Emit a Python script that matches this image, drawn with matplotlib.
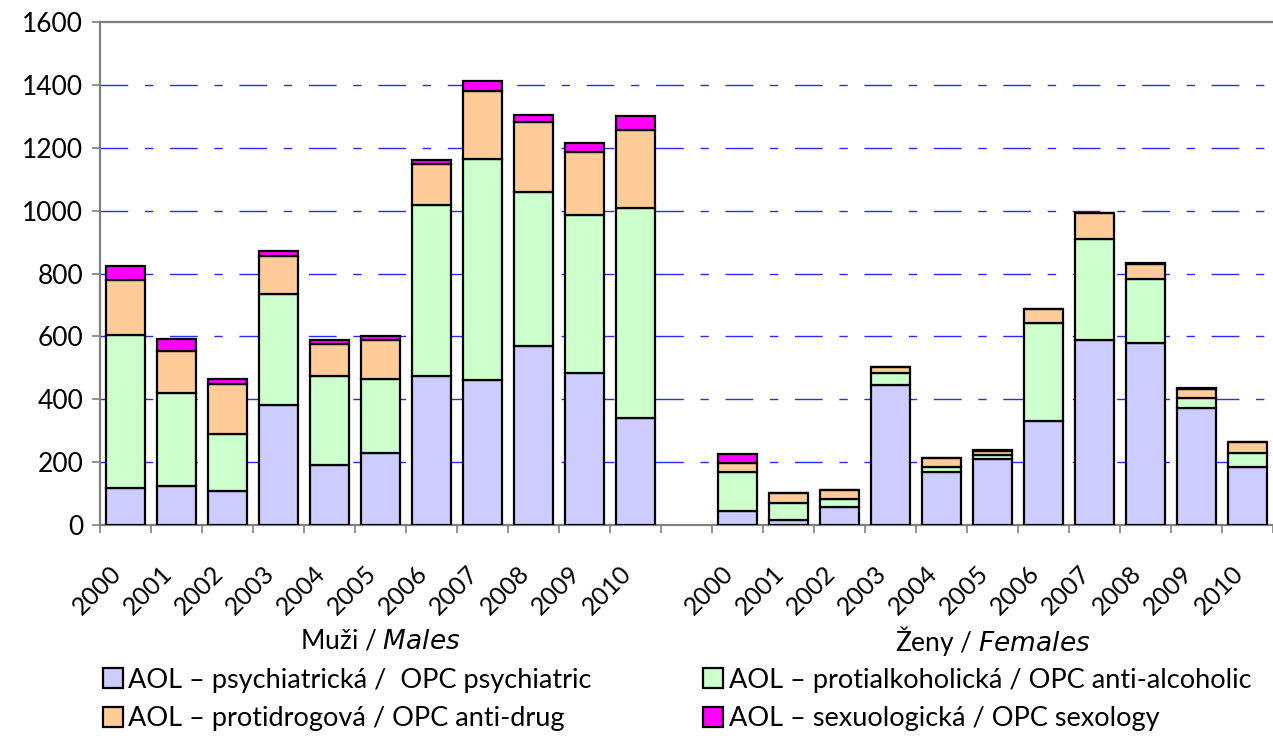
import matplotlib.pyplot as plt
import matplotlib.transforms as mtransforms
import numpy as np

plt.rcParams['font.family'] = ['Lato', 'DejaVu Sans']

years = ['2000', '2001', '2002', '2003', '2004', '2005', '2006', '2007', '2008', '2009', '2010']

# Muži / Males
m_psych = [118, 125, 107, 381, 192, 229, 475, 461, 568, 484, 339]
m_alc = [485, 295, 181, 355, 281, 237, 542, 704, 490, 502, 668]
m_drug = [175, 135, 159, 119, 103, 122, 131, 214, 223, 202, 250]
m_sex = [46, 37, 18, 18, 11, 14, 13, 33, 24, 26, 43]

# Ženy / Females
f_psych = [45, 17, 58, 446, 169, 209, 331, 588, 580, 373, 185]
f_alc = [125, 52, 24, 36, 14, 13, 313, 321, 203, 30, 43]
f_drug = [27, 34, 29, 21, 30, 12, 42, 83, 46, 29, 35]
f_sex = [28, 0, 0, 0, 0, 3, 0, 0, 3, 4, 0]

series_labels = ['AOL – psychiatrická /  OPC psychiatric',
                 'AOL – protialkoholická / OPC anti-alcoholic',
                 'AOL – protidrogová / OPC anti-drug',
                 'AOL – sexuologická / OPC sexology']
colors = ['#CCCCFF', '#CCFFCC', '#FFCC99', '#FF00FF']

# combine groups with one empty slot between them
n = len(years)
x = np.concatenate([np.arange(n), np.arange(n) + n + 1])
series = [m_psych + f_psych, m_alc + f_alc, m_drug + f_drug, m_sex + f_sex]

fig = plt.figure(figsize=(12.73, 7.36), dpi=100)
ax = fig.add_axes([100 / 1273, 1 - 525 / 736, 1 - 100 / 1273, 503 / 736])

bottom = np.zeros(len(x))
handles = []
for vals, col, lab in zip(series, colors, series_labels):
    vals = np.array(vals, dtype=float)
    b = ax.bar(x, vals, width=0.78, bottom=bottom, color=col, edgecolor='black',
               linewidth=1.6, label=lab, zorder=3)
    handles.append(b)
    bottom += vals

ax.set_xlim(-0.5, 2 * n + 0.5)
ax.set_ylim(0, 1600)
ax.set_yticks(range(0, 1601, 200))
ax.tick_params(axis='y', labelsize=19, length=6, color='#808080', width=1.2, pad=6)

for yv in range(200, 1600, 200):
    ax.axhline(yv, color='#2a2aff', lw=1, dashes=(20, 12, 6, 12), zorder=1)

ax.set_xticks(x)
ax.set_xticklabels(years + years, rotation=45, ha='right', va='center',
                   rotation_mode='anchor', fontsize=18)
ax.tick_params(axis='x', length=0, pad=32)
shift = mtransforms.ScaledTranslation(-8 / 100, 0, fig.dpi_scale_trans)
for lbl in ax.get_xticklabels():
    lbl.set_transform(lbl.get_transform() + shift)
ax.set_xticks(np.arange(-0.5, 2 * n + 1, 1), minor=True)
ax.tick_params(axis='x', which='minor', length=6, color='#808080', width=1.2)

for s in ['left', 'bottom', 'top']:
    ax.spines[s].set_color('#808080')
    ax.spines[s].set_linewidth(1.6)
ax.spines['right'].set_visible(False)

ax.text((n - 1) / 2, -0.23, 'Muži / $\\it{Males}$', transform=ax.get_xaxis_transform(),
        ha='center', va='center', fontsize=19)
ax.text(n + 1 + (n - 1) / 2, -0.23, 'Ženy / $\\it{Females}$', transform=ax.get_xaxis_transform(),
        ha='center', va='center', fontsize=19)

fig.legend([handles[0], handles[2], handles[1], handles[3]],
           [series_labels[0], series_labels[2], series_labels[1], series_labels[3]],
           ncol=2, loc='upper left', bbox_to_anchor=(89 / 1273, 1 - 654 / 736),
           frameon=False, fontsize=19.5, handlelength=0.75, handleheight=0.75,
           handletextpad=0.2, columnspacing=4.1, labelspacing=0.5, borderpad=0)

plt.savefig('out.png', dpi=100)
